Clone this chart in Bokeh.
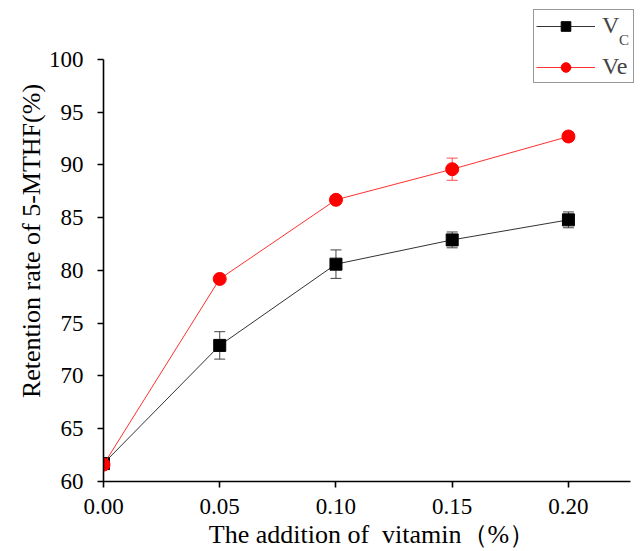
from bokeh.plotting import figure
from bokeh.models import ColumnDataSource, Whisker, TeeHead, Legend, LegendItem, FixedTicker, NumeralTickFormatter, Range1d
from bokeh.embed import file_html
from bokeh.resources import INLINE

x_vals = [0.00, 0.05, 0.10, 0.15, 0.20]
vc_vals = [61.7, 72.9, 80.6, 82.9, 84.8]
vc_err = [0.3, 1.3, 1.35, 0.75, 0.75]
ve_vals = [61.6, 79.2, 86.7, 89.6, 92.7]
ve_err = [0.3, 0.35, 0.3, 1.05, 0.4]
x_ticks = [0.00, 0.05, 0.10, 0.15, 0.20]
y_ticks = [60, 65, 70, 75, 80, 85, 90, 95, 100]

FONT = "Liberation Serif"

p = figure(width=640, height=551, output_backend="svg", toolbar_location=None,
           x_range=Range1d(0, 0.2310), y_range=Range1d(60, 105.59),
           min_border_left=103, min_border_right=0, min_border_top=0, min_border_bottom=70)
p.outline_line_color = None
p.xgrid.visible = False
p.ygrid.visible = False

src_c = ColumnDataSource(dict(x=x_vals, y=vc_vals,
                              lo=[v - e for v, e in zip(vc_vals, vc_err)],
                              hi=[v + e for v, e in zip(vc_vals, vc_err)]))
src_e = ColumnDataSource(dict(x=x_vals, y=ve_vals,
                              lo=[v - e for v, e in zip(ve_vals, ve_err)],
                              hi=[v + e for v, e in zip(ve_vals, ve_err)]))

w1 = Whisker(source=src_c, base="x", lower="lo", upper="hi", line_color="#444444", line_width=1,
             upper_head=TeeHead(size=11, line_color="#444444", line_width=1),
             lower_head=TeeHead(size=11, line_color="#444444", line_width=1))
w2 = Whisker(source=src_e, base="x", lower="lo", upper="hi", line_color="#ff5050", line_width=1,
             upper_head=TeeHead(size=11, line_color="#ff5050", line_width=1),
             lower_head=TeeHead(size=11, line_color="#ff5050", line_width=1))
p.add_layout(w1)
p.add_layout(w2)

l1 = p.line("x", "y", source=src_c, line_color="#333333", line_width=1)
m1 = p.scatter("x", "y", source=src_c, marker="square", size=12, fill_color="black", line_color="black")
l2 = p.line("x", "y", source=src_e, line_color="#ff3030", line_width=1)
m2 = p.scatter("x", "y", source=src_e, marker="circle", size=13, fill_color="#ff0000", line_color="#ff0000")

legend = Legend(items=[LegendItem(label="V", renderers=[l1, m1]),
                       LegendItem(label="Ve", renderers=[l2, m2])],
                location=(430, 398), orientation="vertical",
                border_line_color="#333333", border_line_width=1, background_fill_color="white",
                background_fill_alpha=1.0, label_text_font=FONT, label_text_font_size="24px",
                glyph_width=59, glyph_height=24, label_standoff=7, spacing=14, padding=2, margin=0,
                label_width=29, label_height=24)
p.add_layout(legend, "center")

# subscript "C" of V_C, drawn as a second, borderless legend over the first
dummy = p.scatter(x=[], y=[], alpha=0)
sub_legend = Legend(items=[LegendItem(label="C", renderers=[dummy])],
                    location=(516, 432), orientation="vertical",
                    border_line_color=None, background_fill_alpha=0.0,
                    label_text_font=FONT, label_text_font_size="15px",
                    glyph_width=0, glyph_height=18, label_standoff=0, spacing=0, padding=0, margin=0,
                    label_height=18)
p.add_layout(sub_legend, "center")

for ax in (p.xaxis[0], p.yaxis[0]):
    ax.axis_line_width = 1.6
    ax.axis_line_color = "black"
    ax.major_tick_line_width = 1.6
    ax.major_tick_line_color = "black"
    ax.major_tick_out = 6
    ax.major_tick_in = 0
    ax.minor_tick_line_color = None
    ax.major_label_text_font = FONT
    ax.major_label_text_font_size = "23px"
    ax.major_label_text_color = "black"
    ax.axis_label_text_font = FONT
    ax.axis_label_text_font_size = "26px"
    ax.axis_label_text_font_style = "normal"
    ax.axis_label_text_color = "black"

p.xaxis.ticker = FixedTicker(ticks=x_ticks)
p.xaxis.formatter = NumeralTickFormatter(format="0.00")
p.xaxis.bounds = (0, 0.2267)
p.yaxis.ticker = FixedTicker(ticks=y_ticks)
p.yaxis.bounds = (60, 100)
p.xaxis.axis_label = "The addition of\u00a0 vitamin（%）"
p.yaxis.axis_label = "Retention rate of 5-MTHF(%)"
p.xaxis.major_label_standoff = 11
p.yaxis.major_label_standoff = 14
p.xaxis.axis_label_standoff = 3
p.yaxis.axis_label_standoff = 0

open("out.html", "w").write(file_html(p, INLINE))
